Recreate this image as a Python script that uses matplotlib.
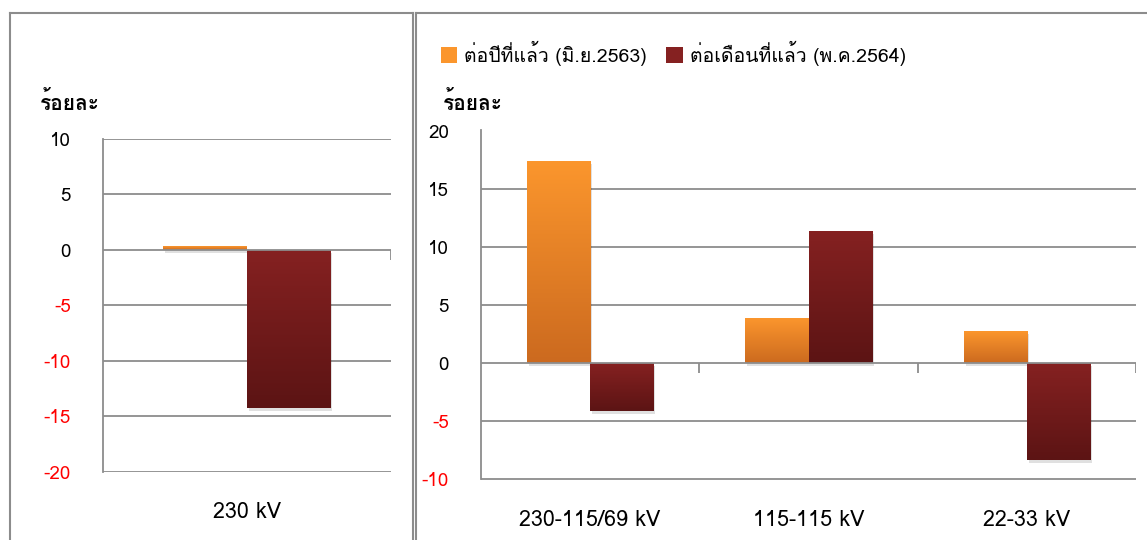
import matplotlib
matplotlib.use("Agg")
import matplotlib.pyplot as plt
import numpy as np
from matplotlib import font_manager as fm
from matplotlib.patches import Patch, Rectangle
from matplotlib.lines import Line2D

# ---------------- data ----------------
left_categories = ["230 kV"]
left_yoy = [0.35]
left_mom = [-14.3]

right_categories = ["230-115/69 kV", "115-115 kV", "22-33 kV"]
right_yoy = [17.4, 3.85, 2.75]
right_mom = [-4.1, 11.4, -8.3]

series_labels = ["ต่อปีที่แล้ว (มิ.ย.2563)", "ต่อเดือนที่แล้ว (พ.ค.2564)"]
y_unit_label = "ร้อยละ"
left_yticks = [10, 5, 0, -5, -10, -15, -20]
right_yticks = [20, 15, 10, 5, 0, -5, -10]

# ---------------- fonts ----------------
thai_names = []
try:
    from fontTools.ttLib import TTFont
    for path in fm.findSystemFonts():
        try:
            tt = TTFont(path, fontNumber=0, lazy=True)
            cmap = tt.getBestCmap()
            if cmap and 0x0E23 in cmap and 0x0E49 in cmap:
                fm.fontManager.addfont(path)
                name = fm.FontProperties(fname=path).get_name()
                if name not in thai_names:
                    thai_names.append(name)
        except Exception:
            pass
except Exception:
    pass

# Loma positions stacked Thai marks correctly without complex shaping
preferred = ["Loma", "Tahoma", "Leelawadee UI", "Noto Sans Thai Looped",
             "Noto Sans Thai", "IBM Plex Sans Thai Looped"]
chosen = [n for n in preferred if n in thai_names]
if not chosen:
    chosen = [n for n in thai_names if "Unifont" not in n]
FAM = chosen[:1] + ["DejaVu Sans"]
plt.rcParams["font.family"] = FAM

W, H = 1147, 540
fig = plt.figure(figsize=(W / 100, H / 100), dpi=100)

def fx(px):
    return px / W

def fy(py):
    return 1 - py / H

GRID = "#8c8c8c"
ORANGE_TOP, ORANGE_BOT = "#fb962d", "#cc6a1f"
RED_TOP, RED_BOT = "#852121", "#5c1414"

def grad_bar(ax, rect, top, bot):
    rect.set_facecolor("none")
    rect.set_edgecolor("none")
    x0, y0 = rect.get_x(), rect.get_y()
    w, h = rect.get_width(), rect.get_height()
    ylo, yhi = min(y0, y0 + h), max(y0, y0 + h)
    c1 = np.array(matplotlib.colors.to_rgb(top))
    c2 = np.array(matplotlib.colors.to_rgb(bot))
    t = np.linspace(0, 1, 64)[:, None]
    img = (c1[None, :] * (1 - t) + c2[None, :] * t)[:, None, :]
    sh = Rectangle((x0, ylo), w, yhi - ylo, facecolor="#000000", alpha=0.12,
                   edgecolor="none", zorder=2.5,
                   transform=ax.transData + matplotlib.transforms.ScaledTranslation(
                       2 / 100, -3 / 100, fig.dpi_scale_trans))
    ax.add_patch(sh)
    im = ax.imshow(img, extent=(x0, x0 + w, ylo, yhi), aspect="auto",
                   origin="upper", zorder=3, interpolation="bilinear")
    clip = Rectangle((x0, ylo), w, yhi - ylo, transform=ax.transData)
    im.set_clip_path(clip)

def panel(rect_px, cats, yoy, mom, yticks, tick_len):
    x0, y0, x1, y1 = rect_px
    ax = fig.add_axes([fx(x0), fy(y1), fx(x1 - x0), (y1 - y0) / H])
    n = len(cats)
    x = np.arange(n)
    bw = 0.29
    b1 = ax.bar(x - bw / 2, yoy, bw, zorder=3)
    b2 = ax.bar(x + bw / 2, mom, bw, zorder=3)
    ax.set_xlim(-0.5, n - 0.5)
    ax.set_ylim(min(yticks), max(yticks))
    for r in b1:
        grad_bar(ax, r, ORANGE_TOP, ORANGE_BOT)
    for r in b2:
        grad_bar(ax, r, RED_TOP, RED_BOT)
    ax.set_yticks(yticks)
    ax.set_yticklabels([str(v) for v in yticks])
    for lab, v in zip(ax.get_yticklabels(), yticks):
        lab.set_color("#ff0000" if v < 0 else "#000000")
    ax.tick_params(axis="y", length=0, pad=23, labelsize=13.5)
    ax.set_xticks(x)
    ax.set_xticklabels(cats)
    ax.tick_params(axis="x", length=0, pad=22, labelsize=15.5)
    for v in yticks:
        if v != 0:
            ax.axhline(v, color=GRID, lw=1.3, zorder=1)
    ax.axhline(0, color=GRID, lw=1.3, zorder=4)
    bounds = np.arange(n + 1) - 0.5
    ax.vlines(bounds[1:], 0, -tick_len, color=GRID, lw=1.3, zorder=4)
    for s in ["top", "right", "bottom"]:
        ax.spines[s].set_visible(False)
    ax.spines["left"].set_color(GRID)
    ax.spines["left"].set_linewidth(1.3)
    ax.patch.set_alpha(0)
    return ax

ax1 = panel((102.7, 138.7, 390.7, 471.7), left_categories, left_yoy, left_mom,
            left_yticks, 0.9)
ax2 = panel((481, 130.5, 1136, 479.5), right_categories, right_yoy, right_mom,
            right_yticks, 0.85)

# frames
frame_kw = dict(color=GRID, lw=1.5, transform=fig.transFigure)
fig.add_artist(Line2D([fx(9.5), fx(9.5)], [fy(13), fy(540)], **frame_kw))
fig.add_artist(Line2D([fx(9.5), fx(413)], [fy(13), fy(13)], **frame_kw))
fig.add_artist(Line2D([fx(413), fx(413)], [fy(13), fy(540)], **frame_kw))
fig.add_artist(Line2D([fx(415.5), fx(415.5)], [fy(13), fy(540)], **frame_kw))
fig.add_artist(Line2D([fx(415.5), fx(1147)], [fy(13), fy(13)], **frame_kw))

# unit labels
fig.text(fx(40), fy(102), y_unit_label, fontsize=15, fontweight="bold",
         ha="left", va="center")
fig.text(fx(443), fy(102), y_unit_label, fontsize=15, fontweight="bold",
         ha="left", va="center")

# legend
handles = [Patch(facecolor=ORANGE_TOP, edgecolor="none"),
           Patch(facecolor=RED_TOP, edgecolor="none")]
fig.legend(handles, series_labels, loc="center left",
           bbox_to_anchor=(fx(433), fy(53)), ncol=2, frameon=False,
           fontsize=14, handlelength=0.85, handleheight=0.85,
           handletextpad=0.35, columnspacing=1.0, borderaxespad=0)

fig.savefig("out.png", dpi=100)
